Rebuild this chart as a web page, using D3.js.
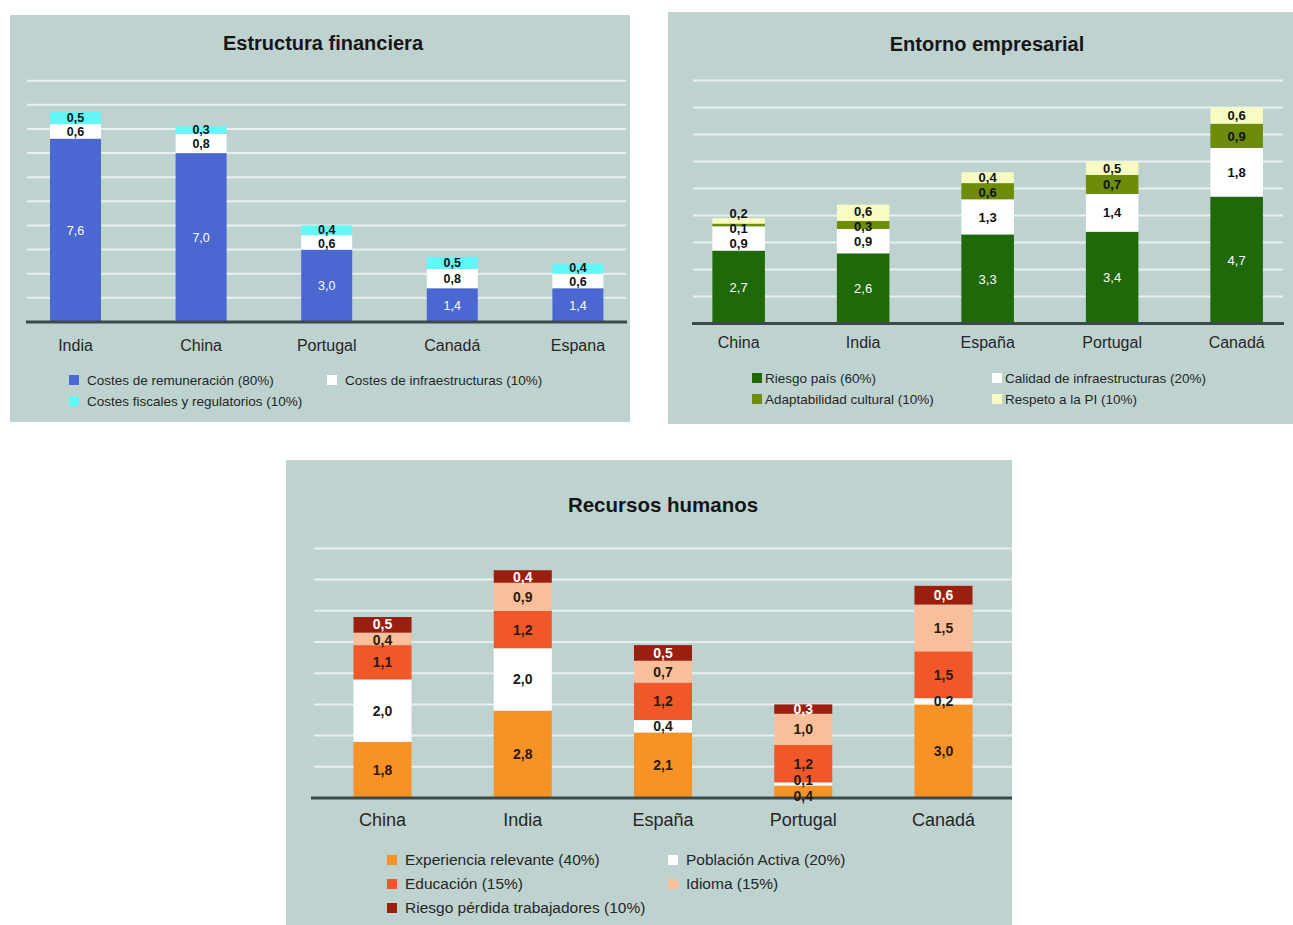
<!DOCTYPE html>
<html>
<head>
<meta charset="utf-8">
<script src="https://cdn.jsdelivr.net/npm/d3@7/dist/d3.min.js"></script>
<style>
  html, body { margin: 0; padding: 0; background: #ffffff; }
  svg { display: block; font-family: "Liberation Sans", Arial, sans-serif; }
</style>
</head>
<body>
<svg id="chart" width="1293" height="925"></svg>
<script>
// ---- Estructura financiera ----
const finCategories = ["India", "China", "Portugal", "Canadá", "Espana"];
const finRemuneracion = [7.6, 7.0, 3.0, 1.4, 1.4];
const finInfraestructuras = [0.6, 0.8, 0.6, 0.8, 0.6];
const finFiscales = [0.5, 0.3, 0.4, 0.5, 0.4];
const finSeries = ["Costes de remuneración (80%)", "Costes de infraestructuras (10%)", "Costes fiscales y regulatorios (10%)"];

// ---- Entorno empresarial ----
const empCategories = ["China", "India", "España", "Portugal", "Canadá"];
const empRiesgo = [2.7, 2.6, 3.3, 3.4, 4.7];
const empCalidad = [0.9, 0.9, 1.3, 1.4, 1.8];
const empAdaptabilidad = [0.1, 0.3, 0.6, 0.7, 0.9];
const empRespeto = [0.2, 0.6, 0.4, 0.5, 0.6];
const empSeries = ["Riesgo país (60%)", "Calidad de infraestructuras (20%)", "Adaptabilidad cultural (10%)", "Respeto a la PI (10%)"];

// ---- Recursos humanos ----
const rhCategories = ["China", "India", "España", "Portugal", "Canadá"];
const rhExperiencia = [1.8, 2.8, 2.1, 0.4, 3.0];
const rhPoblacion = [2.0, 2.0, 0.4, 0.1, 0.2];
const rhEducacion = [1.1, 1.2, 1.2, 1.2, 1.5];
const rhIdioma = [0.4, 0.9, 0.7, 1.0, 1.5];
const rhRiesgo = [0.5, 0.4, 0.5, 0.3, 0.6];
const rhSeries = ["Experiencia relevante (40%)", "Población Activa (20%)", "Educación (15%)", "Idioma (15%)", "Riesgo pérdida trabajadores (10%)"];

const fmt = v => d3.format(".1f")(v).replace(".", ",");
const svg = d3.select("#chart");

function drawPanel(cfg) {
  const g = svg.append("g");

  g.append("rect")
    .attr("x", cfg.box[0]).attr("y", cfg.box[1])
    .attr("width", cfg.box[2]).attr("height", cfg.box[3])
    .attr("fill", "#bed3d0");

  g.append("text")
    .attr("x", cfg.titlePos[0]).attr("y", cfg.titlePos[1])
    .attr("text-anchor", "middle").attr("dy", "0.35em")
    .attr("font-size", cfg.titleSize).attr("font-weight", "bold")
    .attr("fill", "#161616")
    .text(cfg.title);

  const x = d3.scaleBand().domain(cfg.categories).range(cfg.xRange)
    .paddingInner(cfg.pad).paddingOuter(cfg.pad / 2);
  const y = d3.scaleLinear().domain(cfg.yDomain).range(cfg.yRange);

  // horizontal gridlines
  g.append("g").selectAll("line")
    .data(y.ticks(cfg.yDomain[1]).filter(t => t > 0))
    .join("line")
    .attr("x1", cfg.gridX[0]).attr("x2", cfg.gridX[1])
    .attr("y1", d => y(d)).attr("y2", d => y(d))
    .attr("stroke", "#eef4f3").attr("stroke-width", 2).attr("stroke-opacity", 0.85);

  const keys = cfg.series.map((s, i) => "s" + i);
  const rows = cfg.categories.map((c, i) => {
    const r = { cat: c };
    cfg.values.forEach((arr, k) => { r[keys[k]] = arr[i]; });
    return r;
  });
  const stacked = d3.stack().keys(keys)(rows);

  const layers = g.append("g").selectAll("g")
    .data(stacked).join("g")
    .attr("fill", (d, i) => cfg.colors[i]);
  layers.selectAll("rect")
    .data(d => d).join("rect")
    .attr("x", d => x(d.data.cat))
    .attr("width", x.bandwidth())
    .attr("y", d => y(d[1]))
    .attr("height", d => y(d[0]) - y(d[1]));

  // baseline
  g.append("line")
    .attr("x1", cfg.baseX[0]).attr("x2", cfg.baseX[1])
    .attr("y1", y(0)).attr("y2", y(0))
    .attr("stroke", "#3b4a4a").attr("stroke-width", 3);

  // value labels, nudged apart where segments are too thin
  const labelG = g.append("g").attr("font-size", cfg.labelSize).attr("text-anchor", "middle");
  cfg.categories.forEach((c, i) => {
    const items = stacked.map((layer, k) => ({
      v: cfg.values[k][i],
      y: (y(layer[i][0]) + y(layer[i][1])) / 2,
      k: k
    }));
    for (let it = 0; it < 60; it++) {
      for (let j = 0; j < items.length - 1; j++) {
        const a = items[j], b = items[j + 1];
        const diff = a.y - b.y;
        if (diff < cfg.gap) {
          const s = (cfg.gap - diff) / 2;
          a.y += s; b.y -= s;
        }
      }
    }
    items.forEach(d => {
      labelG.append("text")
        .attr("x", x(c) + x.bandwidth() / 2)
        .attr("y", d.y).attr("dy", "0.36em")
        .attr("fill", cfg.labelColors[d.k])
        .attr("font-weight", cfg.labelBold[d.k] ? "bold" : "normal")
        .text(fmt(d.v));
    });
  });

  // category axis labels
  g.append("g").selectAll("text")
    .data(cfg.categories).join("text")
    .attr("x", d => x(d) + x.bandwidth() / 2)
    .attr("y", cfg.catY).attr("dy", "0.35em")
    .attr("text-anchor", "middle")
    .attr("font-size", cfg.catSize).attr("fill", "#262626")
    .text(d => d);

  // legend
  const leg = g.append("g").selectAll("g")
    .data(cfg.series).join("g")
    .attr("transform", (d, i) => `translate(${cfg.legendPos[i][0]},${cfg.legendPos[i][1]})`);
  leg.append("rect")
    .attr("x", 0).attr("y", -5).attr("width", 10).attr("height", 10)
    .attr("fill", (d, i) => cfg.colors[i]);
  leg.append("text")
    .attr("x", cfg.legendGap).attr("dy", "0.35em")
    .attr("font-size", cfg.legendSize).attr("fill", "#262626")
    .text(d => d);
}

drawPanel({
  title: "Estructura financiera",
  box: [10, 15, 620, 407],
  titlePos: [323, 43], titleSize: 20,
  categories: finCategories,
  series: finSeries,
  values: [finRemuneracion, finInfraestructuras, finFiscales],
  colors: ["#4a67d2", "#ffffff", "#62f8f8"],
  labelColors: ["#ffffff", "#111111", "#111111"],
  labelBold: [false, true, true],
  xRange: [12.7, 640.7], pad: 0.594,
  yDomain: [0, 10], yRange: [322, 80.7],
  gridX: [27, 626], baseX: [26, 627],
  labelSize: 12.5, gap: 14,
  catY: 345, catSize: 16,
  legendPos: [[69, 380], [327, 380], [69, 401]], legendGap: 18, legendSize: 13.5
});

drawPanel({
  title: "Entorno empresarial",
  box: [668, 12, 625, 412],
  titlePos: [987, 44], titleSize: 20,
  categories: empCategories,
  series: empSeries,
  values: [empRiesgo, empCalidad, empAdaptabilidad, empRespeto],
  colors: ["#1f690a", "#ffffff", "#6c8c0a", "#f8fcc2"],
  labelColors: ["#ffffff", "#111111", "#111111", "#111111"],
  labelBold: [false, true, true, true],
  xRange: [676.4, 1298.9], pad: 0.578,
  yDomain: [0, 9], yRange: [323.5, 80.5],
  gridX: [693, 1283], baseX: [692, 1284],
  labelSize: 13, gap: 15,
  catY: 342, catSize: 16,
  legendPos: [[752, 378], [992, 378], [752, 399], [992, 399]], legendGap: 13, legendSize: 13.5
});

drawPanel({
  title: "Recursos humanos",
  box: [286, 460, 726, 465],
  titlePos: [663, 505], titleSize: 20.5,
  categories: rhCategories,
  series: rhSeries,
  values: [rhExperiencia, rhPoblacion, rhEducacion, rhIdioma, rhRiesgo],
  colors: ["#f79226", "#ffffff", "#f0582a", "#f8bf9a", "#9a1f0f"],
  labelColors: ["#2a1a0c", "#1a1a1a", "#2a1a0c", "#2a1a0c", "#ffffff"],
  labelBold: [true, true, true, true, true],
  xRange: [312.4, 1013.6], pad: 0.586,
  yDomain: [0, 8], yRange: [798, 548.4],
  gridX: [314, 1012], baseX: [311, 1012],
  labelSize: 14, gap: 16,
  catY: 820, catSize: 18,
  legendPos: [[387, 860], [668, 860], [387, 884], [668, 884], [387, 908]], legendGap: 18, legendSize: 15.5
});
</script>
</body>
</html>
